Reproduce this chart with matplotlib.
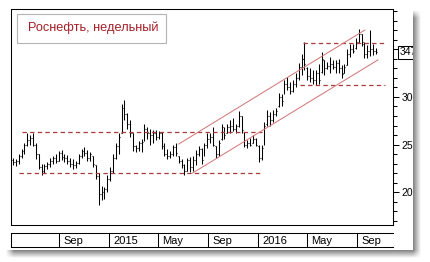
import numpy as np
import pandas as pd
import matplotlib
matplotlib.use('Agg')
import matplotlib.pyplot as plt
from matplotlib.patches import Rectangle
from matplotlib.ticker import MultipleLocator, FixedLocator, FixedFormatter
import matplotlib.transforms as mtransforms

plt.rcParams['font.family'] = ['Liberation Sans', 'DejaVu Sans']

# ---------------- data ----------------
title = 'Роснефть, недельный'
first_week = '2014-05-12'

opens = [234, 232, 233, 238, 243, 250, 255, 257, 250, 240, 226, 222, 227, 229, 233, 236,
         233, 241, 237, 236, 233, 230, 228, 231, 238, 243, 241, 236, 238, 228, 217, 198,
         200, 203, 214, 222, 236, 248, 262, 288, 282, 272, 262, 248, 246, 252, 256, 266,
         262, 260, 262, 258, 262, 248, 240, 238, 240, 247, 238, 233, 228, 222, 234, 226,
         234, 240, 245, 238, 249, 256, 258, 248, 240, 256, 268, 262, 268, 270, 266, 270,
         280, 262, 250, 252, 252, 256, 248, 236, 250, 272, 280, 276, 282, 290, 300, 303,
         314, 310, 306, 314, 320, 332, 340, 330, 322, 320, 318, 325, 326, 339, 330, 333,
         335, 332, 336, 330, 325, 334, 345, 350, 352, 358, 366, 356, 345, 348, 350, 348]
highs = [236, 235, 240, 245, 252, 262, 260, 262, 252, 240, 230, 229, 232, 236, 238, 240,
         243, 244, 240, 239, 236, 235, 233, 240, 245, 247, 244, 242, 238, 228, 220, 206,
         205, 218, 226, 240, 252, 262, 293, 297, 283, 276, 262, 250, 254, 256, 272, 268,
         266, 265, 265, 264, 263, 252, 245, 243, 250, 252, 238, 235, 230, 236, 237, 238,
         244, 248, 246, 252, 262, 262, 268, 248, 255, 272, 268, 272, 276, 278, 272, 285,
         280, 263, 255, 257, 260, 257, 250, 250, 274, 286, 284, 286, 288, 304, 303, 318,
         321, 316, 318, 325, 336, 345, 358, 332, 330, 328, 328, 335, 347, 339, 337, 342,
         339, 339, 340, 334, 335, 351, 356, 356, 362, 372, 366, 358, 355, 370, 356, 352]
lows = [228, 227, 230, 236, 240, 248, 250, 248, 235, 224, 218, 220, 224, 226, 229, 231,
        233, 234, 232, 230, 226, 224, 225, 230, 236, 238, 233, 233, 226, 214, 186, 192,
        193, 200, 212, 220, 235, 240, 262, 276, 266, 258, 243, 242, 243, 242, 254, 256,
        250, 252, 255, 256, 245, 238, 235, 236, 238, 238, 231, 225, 218, 222, 221, 222,
        228, 238, 230, 238, 246, 252, 248, 236, 238, 255, 256, 262, 262, 264, 262, 268,
        262, 247, 246, 248, 252, 248, 232, 234, 250, 270, 270, 274, 280, 289, 291, 303,
        307, 303, 305, 311, 318, 323, 328, 318, 316, 314, 313, 314, 325, 323, 329, 325,
        329, 325, 325, 320, 325, 334, 342, 346, 351, 358, 354, 341, 341, 343, 344, 345]
closes = [232, 233, 238, 243, 250, 255, 257, 250, 240, 226, 222, 227, 229, 233, 236, 233,
          241, 237, 236, 233, 230, 228, 231, 238, 243, 241, 236, 240, 229, 217, 198, 200,
          203, 214, 222, 236, 248, 258, 288, 282, 272, 262, 248, 246, 252, 253, 266, 262,
          260, 262, 258, 262, 248, 240, 238, 240, 247, 241, 233, 228, 222, 234, 226, 234,
          240, 245, 234, 249, 256, 258, 250, 240, 252, 268, 260, 268, 270, 266, 270, 280,
          265, 250, 252, 250, 256, 250, 236, 246, 270, 280, 276, 282, 285, 300, 296, 314,
          310, 306, 314, 320, 332, 340, 335, 322, 320, 318, 325, 318, 340, 330, 333, 335,
          332, 336, 330, 324, 332, 345, 350, 348, 358, 366, 358, 345, 348, 350, 348, 347]
last_label = '347'

# horizontal support / resistance levels: value, start, end
level_values = [263.2, 219.7, 356.5, 312.6]
level_starts = ['2014-06-02', '2014-05-26', '2016-04-21', '2016-04-14']
level_ends = ['2016-01-11', '2016-01-13', '2016-11-08', '2016-11-08']

# channel lines: start date/value, end date/value
channel_start_dates = ['2015-06-22', '2015-07-26']
channel_start_values = [250.5, 220.0]
channel_end_dates = ['2016-09-20', '2016-10-22']
channel_end_values = [370.5, 339.0]

month_dates = ['2014-09-01', '2015-01-01', '2015-05-01', '2015-09-01',
               '2016-01-01', '2016-05-01', '2016-09-01']
month_labels = ['Sep', '2015', 'May', 'Sep', '2016', 'May', 'Sep']
ytick_major = [200, 250, 300, 350]
ytick_labels = ['200', '250', '300', '']

# ---------------- figure ----------------
W, H = 430, 262
fig = plt.figure(figsize=(W / 100, H / 100), dpi=100)
fig.patch.set_facecolor('white')


def fx(px):
    return px / W


def fy(py):
    return 1 - py / H


dates = pd.date_range(first_week, periods=len(closes), freq='7D')
xmin, xmax = pd.Timestamp('2014-05-07'), pd.Timestamp('2016-11-28')

ax = fig.add_axes([fx(11), fy(225), fx(393) - fx(11), fy(9) - fy(225)])
lw = 0.75
tick = pd.Timedelta(days=2.3)
ax.vlines(dates, lows, highs, color='black', lw=lw)
ax.hlines(opens, dates - tick, dates, color='black', lw=lw)
ax.hlines(closes, dates, dates + tick, color='black', lw=lw)

dash_col = '#a83c3c'
for v, s, e in zip(level_values, level_starts, level_ends):
    ax.plot([pd.Timestamp(s), pd.Timestamp(e)], [v, v], color=dash_col, lw=0.9,
            dashes=(3.5, 2.6))
chan_col = '#d47a7a'
for sd, sv, ed, ev in zip(channel_start_dates, channel_start_values,
                          channel_end_dates, channel_end_values):
    ax.plot([pd.Timestamp(sd), pd.Timestamp(ed)], [sv, ev], color=chan_col, lw=lw)

ax.set_xlim(xmin, xmax)
ax.set_ylim(165.3, 392.6)
ax.set_xticks([])
ax.yaxis.tick_right()
ax.yaxis.set_major_locator(FixedLocator(ytick_major))
ax.yaxis.set_major_formatter(FixedFormatter(ytick_labels))
ax.yaxis.set_minor_locator(MultipleLocator(10))
ax.tick_params(axis='y', which='major', length=4.5, width=lw, pad=1.5,
               labelsize=7.5, direction='out', colors='black')
ax.tick_params(axis='y', which='minor', length=3, width=lw, direction='out')
for sp in ax.spines.values():
    sp.set_linewidth(lw)
    sp.set_color('black')

trans = mtransforms.blended_transform_factory(ax.transAxes, ax.transData)
ax.text(1.017, closes[-1], last_label, transform=trans, ha='left', va='center',
        fontsize=7.5, color='black',
        bbox=dict(boxstyle='square,pad=0.12', fc='white', ec='black', lw=lw))

# date strip
ax2 = fig.add_axes([fx(11), fy(247), fx(393) - fx(11), fy(233) - fy(247)])
ax2.set_xlim(xmin, xmax)
ax2.set_ylim(0, 1)
ax2.set_xticks([])
ax2.set_yticks([])
ax2.spines['right'].set_visible(False)
for sp in ax2.spines.values():
    sp.set_linewidth(lw)
md = [pd.Timestamp(d) for d in month_dates]
ax2.vlines(md, 0, 1, color='black', lw=lw)
for d, lab in zip(md, month_labels):
    ax2.text(d + pd.Timedelta(days=11), 0.45, lab, ha='left', va='center',
             fontsize=8, color='black')

# title box
fig.add_artist(Rectangle((fx(17.3), fy(43.3)), fx(165.7) - fx(17.3), fy(14.3) - fy(43.3),
                         transform=fig.transFigure, fc='white', ec='#b4b4b4', lw=0.8,
                         zorder=5))
fig.text(fx(28.3), fy(31.5), title, ha='left', va='baseline', fontsize=9.2,
         color='#a41e28', zorder=6)

# panel edge + drop shadow overlay
yy, xx = np.mgrid[0:H, 0:W] + 0.5
inside = (xx < 413) & (yy < 250)
f = 8.0
inten = (np.clip((421 - xx) / f, 0, 1) * np.clip((258 - yy) / f, 0, 1) *
         np.clip((xx - 6) / f, 0, 1) * np.clip((yy - 10) / f, 0, 1)) * 0.5
img = np.ones((H, W, 4))
img[..., 0] = 1 - inten
img[..., 1] = 1 - inten
img[..., 2] = 1 - inten
img[..., 3] = np.where(inside, 0.0, 1.0)
oax = fig.add_axes([0, 0, 1, 1], zorder=10)
oax.imshow(img, extent=(0, W, H, 0), aspect='auto', interpolation='nearest')
oax.set_xlim(0, W)
oax.set_ylim(H, 0)
oax.axis('off')

fig.savefig('out.png', dpi=100)
